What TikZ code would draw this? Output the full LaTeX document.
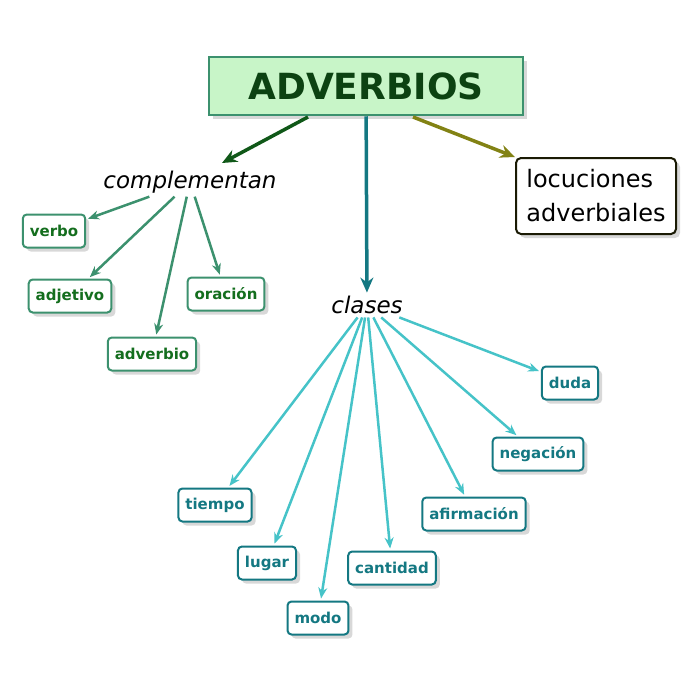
\documentclass[tikz,border=0pt]{standalone}
\usepackage{fontspec}
\setmainfont{DejaVu Sans}
\usetikzlibrary{shadows,arrows.meta}
\definecolor{dgreen}{RGB}{20,110,30}
\definecolor{mgreen}{RGB}{60,145,110}
\definecolor{tealc}{RGB}{20,120,130}
\definecolor{cyanc}{RGB}{70,195,200}
\definecolor{olivec}{RGB}{130,130,20}
\definecolor{lgreen}{RGB}{200,245,200}
\tikzset{
  box/.style={draw, line width=2pt, rounded corners=4pt, fill=white, inner xsep=7pt,
    minimum height=33pt, drop shadow={shadow xshift=4pt, shadow yshift=-4pt, fill=gray!60},
    font=\bfseries\fontsize{15}{18}\selectfont},
  gbox/.style={box, draw=mgreen, text=dgreen},
  tbox/.style={box, draw=tealc, text=tealc},
  garrow/.style={-{Stealth[length=11pt,width=9pt]}, line width=2.5pt, mgreen, shorten >=2pt},
  tarrow/.style={-{Stealth[length=11pt,width=9pt]}, line width=2.5pt, cyanc, shorten >=2pt},
  barrow/.style={-{Stealth[length=15pt,width=13pt]}, line width=3.5pt}
}
\begin{document}
\begin{tikzpicture}[x=1pt, y=-1pt]
\useasboundingbox (0,0) rectangle (699,697);
\node[draw=mgreen, line width=2.5pt, fill=lgreen, minimum width=314pt, minimum height=58pt,
  drop shadow={shadow xshift=4pt, shadow yshift=-4pt, fill=gray!60},
  font=\bfseries\fontsize{36}{40}\selectfont, text=dgreen!60!black] (adv) at (366,86) {ADVERBIOS};
\node[font=\itshape\fontsize{23}{26}\selectfont] (comp) at (190,182) {complementan};
\node[font=\itshape\fontsize{23}{26}\selectfont] (cla) at (367,305) {clases};
\node[draw=black!80!olivec, line width=2pt, rounded corners=5pt, fill=white, align=left,
  drop shadow={shadow xshift=4pt, shadow yshift=-4pt, fill=gray!60}, minimum width=160pt,
  minimum height=76pt, font=\fontsize{24}{34}\selectfont] (loc) at (596,196) {locuciones\\adverbiales};
% complementan
\node[gbox] (verbo) at (54,231) {verbo};
\node[gbox] (adj) at (70,296) {adjetivo};
\node[gbox] (ora) at (226,294) {oración};
\node[gbox] (adverb) at (152,354) {adverbio};
% clases
\node[tbox] (duda) at (570,383) {duda};
\node[tbox] (neg) at (538,454) {negación};
\node[tbox] (afi) at (474,514) {afirmación};
\node[tbox] (tie) at (215,505) {tiempo};
\node[tbox] (lug) at (267,563) {lugar};
\node[tbox] (can) at (392,568) {cantidad};
\node[tbox] (modo) at (318,618) {modo};
% connectors
\coordinate (advl) at (308,117);
\coordinate (advr) at (413,117);
\coordinate (compt) at (222,163);
\draw[barrow, dgreen!80!black] (advl) -- (compt);
\draw[barrow, tealc] (adv) -- (cla);
\draw[barrow, olivec] (advr) -- (loc.north west);
\foreach \t in {verbo, adj, adverb, ora}
  \draw[garrow] (comp) -- (\t);
\foreach \t in {duda, neg, afi, tie, lug, can, modo}
  \draw[tarrow] (cla) -- (\t);
\end{tikzpicture}
\end{document}
